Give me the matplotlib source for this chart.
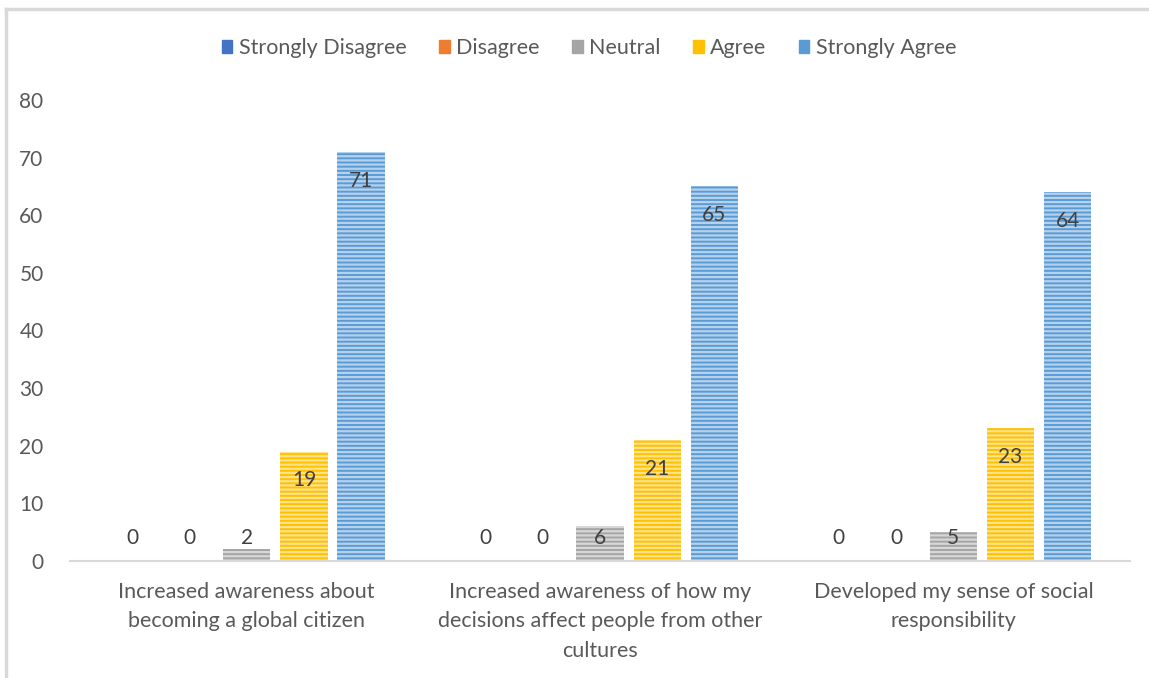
import numpy as np
import matplotlib.pyplot as plt
from matplotlib.patches import Rectangle
from matplotlib.lines import Line2D

plt.rcParams['font.family'] = ['Lato', 'DejaVu Sans']
plt.rcParams['hatch.linewidth'] = 1.6

categories = ["Increased awareness about\nbecoming a global citizen",
              "Increased awareness of how my\ndecisions affect people from other\ncultures",
              "Developed my sense of social\nresponsibility"]
series = ["Strongly Disagree", "Disagree", "Neutral", "Agree", "Strongly Agree"]
strongly_disagree = [0, 0, 0]
disagree = [0, 0, 0]
neutral = [2, 6, 5]
agree = [19, 21, 23]
strongly_agree = [71, 65, 64]
values = [strongly_disagree, disagree, neutral, agree, strongly_agree]
colors = ["#4472C4", "#ED7D31", "#A5A5A5", "#FFC000", "#5B9BD5"]

txt = "#595959"
fig = plt.figure(figsize=(11.49, 6.78), dpi=100)
ax = fig.add_axes([70/1149, 1-561/678, 1060/1149, 461/678])

x = np.arange(len(categories))
step = 0.162
width = 0.134
for i, (name, vals, c) in enumerate(zip(series, values, colors)):
    pos = x + (i - 2) * step
    light = tuple(0.55 + 0.45 * v for v in plt.matplotlib.colors.to_rgb(c))
    ax.bar(pos, vals, width, color=c, edgecolor=light, linewidth=0,
           hatch='----', label=name)
    for p, v in zip(pos, vals):
        ax.text(p, max(v - 5.0, 4.0), str(v), ha='center', va='center',
                fontsize=15, color="#404040")

ax.set_xlim(-0.5, 2.5)
ax.set_ylim(0, 80)
ax.set_yticks(range(0, 81, 10))
ax.set_xticks(x)
ax.set_xticklabels(categories, fontsize=15.5, color=txt, linespacing=1.6)
ax.tick_params(axis='y', length=0, labelsize=15, labelcolor=txt, pad=19)
ax.tick_params(axis='x', length=0, pad=15)
for s in ['top', 'right', 'left']:
    ax.spines[s].set_visible(False)
ax.spines['bottom'].set_color('#d9d9d9')
ax.spines['bottom'].set_linewidth(1.5)

handles = [Rectangle((0, 0), 1, 1, facecolor=c, edgecolor=c) for c in colors]
fig.legend(handles, series, loc='center', bbox_to_anchor=(589/1149, 1-48/678),
           ncol=5, frameon=False, fontsize=15.5, labelcolor=txt,
           handlelength=0.5, handleheight=0.6, handletextpad=0.3,
           columnspacing=1.5)

# chart frame
fig.add_artist(Line2D([6/1149, 1.0], [1-9/678, 1-9/678], color='#d9d9d9', lw=2.5))
fig.add_artist(Line2D([6/1149, 6/1149], [0, 1-9/678], color='#d9d9d9', lw=2.5))

fig.savefig('out.png', dpi=100)
